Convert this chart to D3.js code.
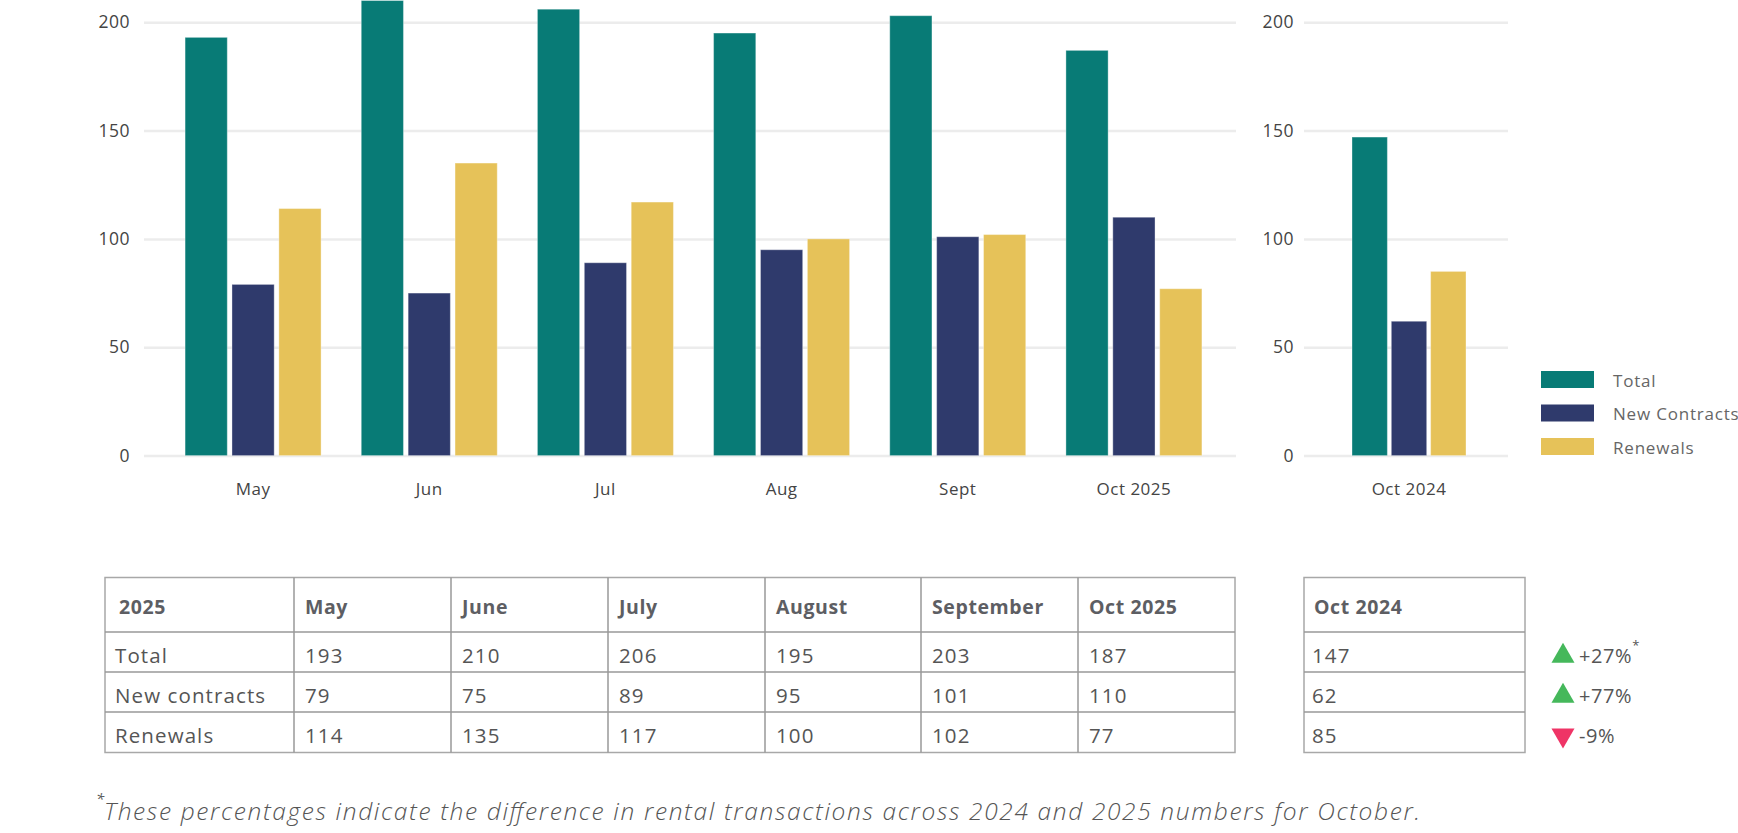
<!DOCTYPE html>
<html><head><meta charset="utf-8">
<script src="https://cdn.jsdelivr.net/npm/d3@7"></script>
<style>
body{margin:0;background:#fff;}
svg text{font-family:"Open Sans",sans-serif;}
</style></head><body>
<svg id="chart" width="1738" height="833"></svg>
<script>
// ---- data ----
const months = ["May","Jun","Jul","Aug","Sept","Oct 2025"];
const seriesNames = ["Total","New Contracts","Renewals"];
const totals = [193,210,206,195,203,187];
const newContracts = [79,75,89,95,101,110];
const renewals = [114,135,117,100,102,77];
const prevLabels = ["Oct 2024"];
const prevTotals = [147];
const prevNew = [62];
const prevRenewals = [85];
const yTicks = [0,50,100,150,200];
const tableHeaders = ["2025","May","June","July","August","September","Oct 2025"];
const rowLabels = ["Total","New contracts","Renewals"];
const prevHeader = ["Oct 2024"];
const changeLabels = ["+27%","+77%","-9%"];
const changeDirections = ["up","up","down"];
const footnote = "These percentages indicate the difference in rental transactions across 2024 and 2025 numbers for October.";

// ---- styles ----
const colors = ["#087b76","#2f3a6c","#e6c259"];
const svg = d3.select("#chart");

const y = d3.scaleLinear().domain([0,200]).range([455.6,22.2]);

function drawPanel(cats, series, gridX0, gridX1, bandRange, groupW, labelPad){
  const g = svg.append("g");
  const ax = g.append("g").attr("transform",`translate(${gridX0},0)`)
    .call(d3.axisLeft(y).tickValues(yTicks).tickSize(-(gridX1-gridX0)).tickPadding(labelPad));
  ax.select(".domain").remove();
  ax.selectAll(".tick line").attr("stroke","#ececec").attr("stroke-width",2.5);
  ax.selectAll(".tick text").attr("fill","#444").attr("font-size",17.5).style("letter-spacing","0.5px");

  const x0 = d3.scaleBand().domain(cats).range(bandRange);
  const x1 = d3.scaleBand().domain(seriesNames).range([0,groupW]).paddingInner(0.1);
  const off = (x0.bandwidth()-groupW)/2;
  const groups = g.selectAll("g.grp").data(cats.map((c,i)=>({c, vals: series.map(s=>s[i])})))
    .join("g").attr("transform",d=>`translate(${x0(d.c)+off},0)`);
  groups.selectAll("rect").data(d=>d.vals.map((v,j)=>({v, s:seriesNames[j], j})))
    .join("rect")
    .attr("x",d=>x1(d.s)).attr("width",x1.bandwidth())
    .attr("y",d=>y(d.v)).attr("height",d=>y(0)-y(d.v))
    .attr("fill",d=>colors[d.j])
    .attr("stroke","rgba(255,255,255,0.35)").attr("stroke-width",1);

  const xa = g.append("g").attr("transform",`translate(0,${y(0)})`)
    .call(d3.axisBottom(x0).tickSize(0).tickPadding(27));
  xa.select(".domain").remove();
  xa.selectAll("text").attr("fill","#444").attr("font-size",17).style("letter-spacing","0.5px");
}

drawPanel(months,[totals,newContracts,renewals],144,1236,[165,1222],136,14);
drawPanel(prevLabels,[prevTotals,prevNew,prevRenewals],1304,1508,[1344,1474],114,10);

// ---- legend ----
const leg = svg.append("g");
const legY = d3.scalePoint().domain(seriesNames).range([371,438]);
leg.selectAll("rect").data(seriesNames).join("rect")
  .attr("x",1541).attr("y",d=>legY(d)).attr("width",53).attr("height",17)
  .attr("fill",(d,i)=>colors[i]);
leg.selectAll("text").data(seriesNames).join("text")
  .attr("x",1613).attr("y",d=>legY(d)+9).attr("dominant-baseline","central")
  .attr("fill","#666").attr("font-size",17).style("letter-spacing","0.8px").text(d=>d);

// ---- tables ----
const colX = [105,294,451,608,765,921,1078,1235];
const rowY = [577.5,632,672,712,752.5];
const tableValues = [totals,newContracts,renewals];
const tbl = svg.append("g");
function drawGrid(xs){
  const x0 = xs[0], x1 = xs[xs.length-1];
  tbl.append("rect").attr("x",x0).attr("y",rowY[0]).attr("width",x1-x0).attr("height",rowY[rowY.length-1]-rowY[0])
    .attr("fill","none").attr("stroke","#a8a8a8").attr("stroke-width",1.5);
  rowY.slice(1,-1).forEach(yy=>tbl.append("line").attr("x1",x0).attr("x2",x1).attr("y1",yy).attr("y2",yy)
    .attr("stroke","#999").attr("stroke-width",1.5));
  xs.slice(1,-1).forEach(xx=>tbl.append("line").attr("x1",xx).attr("x2",xx).attr("y1",rowY[0]).attr("y2",rowY[rowY.length-1])
    .attr("stroke","#999").attr("stroke-width",1.5));
}
drawGrid(colX);
drawGrid([1304,1525]);

tbl.selectAll("text.hdr").data(tableHeaders).join("text").attr("class","hdr")
  .attr("x",(d,i)=>colX[i]+(i===0?14:11)).attr("y",(rowY[0]+rowY[1])/2+2)
  .attr("dominant-baseline","central").attr("font-weight",700).attr("font-size",19.5)
  .attr("fill","#5d5e63").style("letter-spacing","0.6px").text(d=>d);
tbl.append("text").attr("x",1314).attr("y",(rowY[0]+rowY[1])/2+2)
  .attr("dominant-baseline","central").attr("font-weight",700).attr("font-size",19.5)
  .attr("fill","#5d5e63").style("letter-spacing","0.6px").text(prevHeader[0]);

rowLabels.forEach((lab,r)=>{
  const cy = (rowY[r+1]+rowY[r+2])/2+3;
  const cells = [lab].concat(tableValues[r].map(String));
  tbl.selectAll(null).data(cells).join("text")
    .attr("x",(d,i)=>colX[i]+(i===0?10:11)).attr("y",cy).attr("dominant-baseline","central")
    .attr("font-size",20.5).attr("fill","#555").style("letter-spacing","1.1px").text(d=>d);
  const prevVals = [prevTotals[0],prevNew[0],prevRenewals[0]];
  tbl.append("text").attr("x",1312).attr("y",cy).attr("dominant-baseline","central")
    .attr("font-size",20.5).attr("fill","#555").style("letter-spacing","1.1px").text(prevVals[r]);
  // change indicator
  const up = changeDirections[r]==="up";
  const tri = d3.symbol().type(d3.symbolTriangle).size(230)();
  tbl.append("path").attr("d",tri)
    .attr("transform",`translate(1563,${cy+(up?1:0)}) rotate(${up?0:180})`)
    .attr("fill",up?"#45b85b":"#ef3466");
  const t = tbl.append("text").attr("x",1579).attr("y",cy).attr("dominant-baseline","central")
    .attr("font-size",20).attr("fill","#555").style("letter-spacing","0.6px").text(changeLabels[r]);
  if(r===0){
    t.append("tspan").attr("dy",-10).attr("font-size",13).text("*");
  }
});

// ---- footnote ----
svg.append("text").attr("x",96).attr("y",804).attr("font-size",15).attr("fill","#555").attr("font-style","italic").text("*");
svg.append("text").attr("x",104).attr("y",820).attr("font-size",24.5).attr("font-weight",300)
  .attr("font-style","italic").attr("fill","#555")
  .attr("textLength",1316).attr("lengthAdjust","spacing").text(footnote);
</script>
</body></html>
